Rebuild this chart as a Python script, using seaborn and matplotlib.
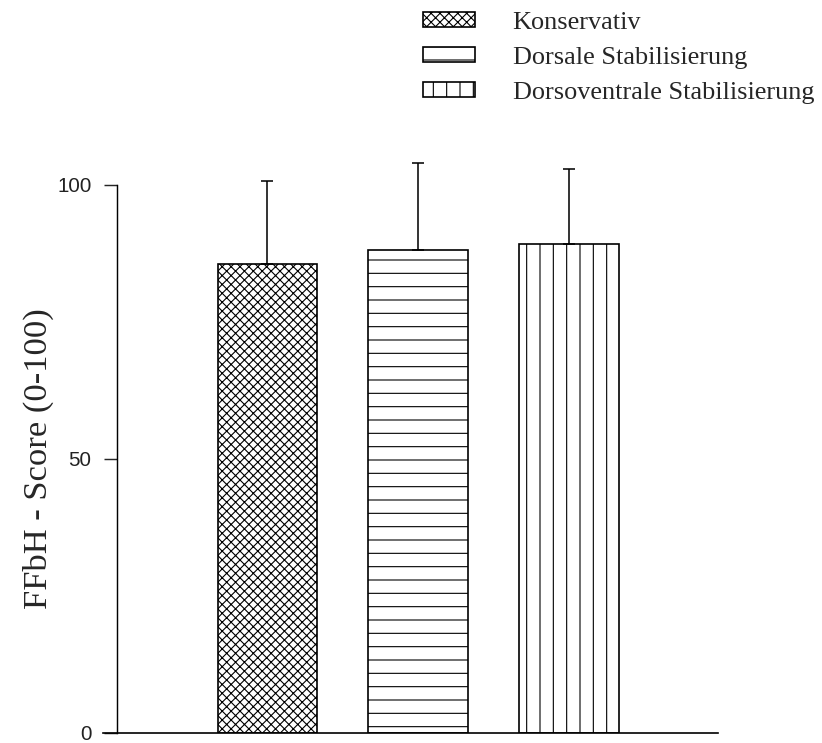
import numpy as np
import matplotlib
matplotlib.use('Agg')
import matplotlib.pyplot as plt
import seaborn as sns

# values
groups = ['Konservativ', 'Dorsale Stabilisierung', 'Dorsoventrale Stabilisierung']
means = [85.6, 88.1, 89.2]
sds = [15.1, 15.9, 13.7]
hatches = ['xxx', '-', '|']
yticks = [0, 50, 100]

sns.set_style('white')
plt.rcParams['font.family'] = ['Liberation Serif', 'DejaVu Serif']
plt.rcParams['hatch.linewidth'] = 1.0
plt.rcParams['hatch.color'] = 'black'

W, H, DPI = 822, 743, 80
fig = plt.figure(figsize=(W / DPI, H / DPI), dpi=DPI)
ax = fig.add_axes([103 / W, 10 / H, 615 / W, 603 / H])

sns.barplot(x=groups, y=means, color='white', saturation=1, edgecolor='black',
            linewidth=1.5, width=0.663, errorbar=None, ax=ax)
for patch, h in zip(ax.patches, hatches):
    patch.set_hatch(h)

# upper-only SD bars
ax.errorbar(x=np.arange(len(groups)), y=means, yerr=[np.zeros(len(sds)), sds],
            fmt='none', ecolor='black', elinewidth=1.4, capsize=5.5, capthick=1.4)

ax.set_xlim(-1.091, 2.988)
ax.set_ylim(0, 110)
ax.set_xticks([])
ax.set_xlabel('')

sns.despine(ax=ax)
ax.spines['left'].set_position(('data', -1.0))
ax.spines['left'].set_bounds(0, 100)
ax.spines['left'].set_linewidth(1.3)
ax.spines['bottom'].set_linewidth(1.5)
ax.spines['left'].set_color('black')
ax.spines['bottom'].set_color('black')

# ticks after the spine move (set_position resets the ticks)
ax.set_yticks(yticks)
ax.set_yticklabels([str(t) for t in yticks], family=['Liberation Sans Narrow', 'Liberation Sans'],
                   fontsize=18.5, color='#222222')
ax.tick_params(axis='y', direction='out', length=11.7, width=1.3, pad=11, left=True)

ax.set_ylabel('FFbH - Score (0-100)', fontsize=31)
ax.yaxis.set_label_coords(-0.028 - 32 / 615, 50 / 110)

fig.legend(handles=list(ax.patches), labels=groups, loc='upper left',
           bbox_to_anchor=(423 / W, 1 - 12 / H), frameon=False, fontsize=23.6,
           handlelength=2.0, handleheight=0.5, handletextpad=1.42,
           labelspacing=0.5, borderpad=0, borderaxespad=0)

fig.savefig('out.png', dpi=DPI)
